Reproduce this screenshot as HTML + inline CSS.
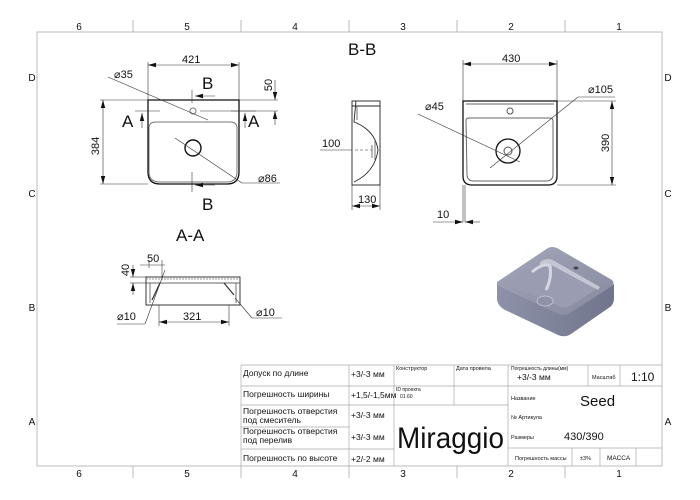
<!DOCTYPE html>
<html><head><meta charset="utf-8"><style>
html,body{margin:0;padding:0;background:#fff;width:700px;height:500px;overflow:hidden}
svg{display:block}
text{font-family:"Liberation Sans",sans-serif;fill:#111}
.t{font-family:"DejaVu Sans Condensed","DejaVu Sans",sans-serif}
</style></head><body>
<svg width="700" height="500" viewBox="0 0 700 500" xmlns="http://www.w3.org/2000/svg">
<defs>
<marker id="ar" markerWidth="8" markerHeight="6" refX="8" refY="3" orient="auto-start-reverse" markerUnits="userSpaceOnUse"><path d="M0,0.8 L8,3 L0,5.2z" fill="#111"/></marker>
<linearGradient id="g1" x1="0" y1="0" x2="1" y2="1"><stop offset="0" stop-color="#a4a7ba"/><stop offset="1" stop-color="#868aa0"/></linearGradient>
<linearGradient id="g2" x1="0" y1="0" x2="1" y2="0"><stop offset="0" stop-color="#8e92a8"/><stop offset="1" stop-color="#70748c"/></linearGradient>
</defs>
<rect x="37" y="32" width="625" height="434" fill="none" stroke="#bbb" stroke-width="1"/>
<g stroke="#aaa" stroke-width="0.8">
<line x1="133" y1="20" x2="133" y2="32"/><line x1="241" y1="20" x2="241" y2="32"/><line x1="349" y1="20" x2="349" y2="32"/><line x1="457" y1="20" x2="457" y2="32"/><line x1="565" y1="20" x2="565" y2="32"/>
<line x1="133" y1="466" x2="133" y2="478"/><line x1="241" y1="466" x2="241" y2="478"/><line x1="349" y1="466" x2="349" y2="478"/><line x1="457" y1="466" x2="457" y2="478"/><line x1="565" y1="466" x2="565" y2="478"/>
</g>
<g font-size="10" text-anchor="middle">
<text x="79" y="30">6</text><text x="187" y="30">5</text><text x="295" y="30">4</text><text x="403" y="30">3</text><text x="511" y="30">2</text><text x="619" y="30">1</text>
<text x="79" y="477">6</text><text x="187" y="477">5</text><text x="295" y="477">4</text><text x="403" y="477">3</text><text x="511" y="477">2</text><text x="619" y="477">1</text>
<text x="32" y="81">D</text><text x="32" y="197">C</text><text x="32" y="311">B</text><text x="32" y="425">A</text>
<text x="668" y="81">D</text><text x="668" y="197">C</text><text x="668" y="311">B</text><text x="668" y="425">A</text>
</g>

<g fill="none" stroke="#111" stroke-width="1">
<path d="M148,100 H239 V172 Q239,184 227,184 H160 Q148,184 148,172 Z" stroke-width="1.3"/>
<path d="M149,128 Q149,122 156,122 H230 Q237,122 237,128 V172 Q237,182 227,182 H160 Q149,182 149,172 Z" stroke="#777"/>
<circle cx="193" cy="148" r="8" stroke-width="1.4"/>
<circle cx="193" cy="111" r="3" stroke="#777"/>
</g>
<g stroke="#333" stroke-width="0.6" fill="none">
<line x1="148" y1="62" x2="148" y2="100"/><line x1="239" y1="62" x2="239" y2="100"/>
<line x1="148" y1="65" x2="239" y2="65" marker-start="url(#ar)" marker-end="url(#ar)"/>
<line x1="100" y1="100" x2="148" y2="100"/><line x1="100" y1="184" x2="148" y2="184"/>
<line x1="103" y1="100" x2="103" y2="184" marker-start="url(#ar)" marker-end="url(#ar)"/>
<line x1="239" y1="100" x2="278" y2="100"/><line x1="200" y1="111" x2="278" y2="111"/>
<line x1="275" y1="80" x2="275" y2="100" marker-end="url(#ar)"/><line x1="275" y1="125" x2="275" y2="111" marker-end="url(#ar)"/>
<line x1="108" y1="77" x2="208" y2="120"/><line x1="175" y1="138" x2="242" y2="183"/><line x1="242" y1="183" x2="280" y2="183"/>
<line x1="192" y1="90" x2="192" y2="103"/><line x1="192" y1="172" x2="192" y2="192"/>
<line x1="195" y1="96" x2="215" y2="96" marker-start="url(#ar)"/><line x1="195" y1="185" x2="215" y2="185" marker-start="url(#ar)"/>
<line x1="135" y1="111" x2="160" y2="111"/><line x1="231" y1="111" x2="256" y2="111"/>
<line x1="142" y1="128" x2="142" y2="113" marker-end="url(#ar)"/><line x1="245" y1="128" x2="245" y2="113" marker-end="url(#ar)"/>
</g>
<g font-size="11">
<text x="182" y="63">421</text>
<text x="114" y="78">⌀35</text>
<text x="202" y="89" font-size="17">B</text>
<text x="202" y="210" font-size="17">B</text>
<text x="122" y="127" font-size="17">A</text>
<text x="248" y="127" font-size="17">A</text>
<text x="258" y="182">⌀86</text>
<text transform="translate(99,146) rotate(-90)" text-anchor="middle">384</text>
<text transform="translate(272,85) rotate(-90)" text-anchor="middle">50</text>
<text x="348" y="55" font-size="17">B-B</text>
<text x="176" y="241" font-size="17">A-A</text>
</g>

<g fill="none" stroke="#222" stroke-width="0.9">
<rect x="352" y="101" width="28" height="84"/>
<path d="M352,106 H380 M356,101 L354,122 Q375,130 378,150 Q375,172 354,182" />
<path d="M357,106 L357,120 M375,140 V160 M372,145 V158" stroke="#666"/>
</g>
<g stroke="#333" stroke-width="0.6" fill="none">
<line x1="320" y1="150" x2="352" y2="150"/><line x1="355" y1="150" x2="372" y2="150" stroke-dasharray="3,2"/>
<line x1="352" y1="185" x2="352" y2="210"/><line x1="380" y1="185" x2="380" y2="210"/>
<line x1="352" y1="206" x2="380" y2="206" marker-start="url(#ar)" marker-end="url(#ar)"/>
</g>
<g font-size="11"><text x="322" y="147">100</text><text x="358" y="203">130</text></g>

<g fill="none" stroke="#111" stroke-width="1">
<path d="M463,101 H557 V176 Q557,185 548,185 H472 Q463,185 463,176 Z" stroke-width="1.3"/>
<path d="M466,104 H554 M466,120 Q466,118 470,118 H550 Q553,118 553,121 V174 Q553,181 546,181 H474 Q467,181 467,174 Z" stroke="#666"/>
<circle cx="508" cy="151" r="12" stroke-width="1.3"/>
<circle cx="508" cy="151" r="4" stroke="#555"/>
<circle cx="510" cy="111" r="3" stroke="#555"/>
</g>
<g stroke="#333" stroke-width="0.6" fill="none">
<line x1="463" y1="60" x2="463" y2="101"/><line x1="557" y1="60" x2="557" y2="101"/>
<line x1="463" y1="64" x2="557" y2="64" marker-start="url(#ar)" marker-end="url(#ar)"/>
<line x1="557" y1="101" x2="616" y2="101"/><line x1="557" y1="185" x2="616" y2="185"/>
<line x1="612" y1="101" x2="612" y2="185" marker-start="url(#ar)" marker-end="url(#ar)"/>
<line x1="418" y1="114" x2="520" y2="162"/><line x1="490" y1="168" x2="578" y2="97"/><line x1="578" y1="97" x2="615" y2="97"/>
<line x1="463" y1="185" x2="463" y2="222"/><line x1="465" y1="185" x2="465" y2="222"/>
<line x1="433" y1="222" x2="463" y2="222" marker-end="url(#ar)"/><line x1="480" y1="222" x2="465" y2="222" marker-end="url(#ar)"/>
</g>
<g font-size="11">
<text x="502" y="62">430</text><text x="425" y="110">⌀45</text><text x="588" y="93">⌀105</text><text x="437" y="218">10</text>
<text transform="translate(609,143) rotate(-90)" text-anchor="middle">390</text>
</g>

<g fill="none" stroke="#222" stroke-width="0.9">
<rect x="146" y="277" width="94" height="28"/>
<path d="M146,283 H240 M150,283 V303 M236,283 V303" stroke="#666"/>
<path d="M146,279 H240" stroke="#999" stroke-dasharray="2,1"/>
</g>
<g stroke="#333" stroke-width="0.6" fill="none">
<line x1="160" y1="283" x2="152" y2="300" stroke-width="1.2"/><line x1="224" y1="283" x2="234" y2="295" stroke-width="1.2"/>
<line x1="140" y1="265" x2="165" y2="265"/><line x1="149" y1="260" x2="149" y2="268"/><line x1="162" y1="260" x2="162" y2="278"/>
<line x1="130" y1="277" x2="146" y2="277"/><line x1="130" y1="283" x2="146" y2="283"/>
<line x1="133" y1="265" x2="133" y2="277" marker-end="url(#ar)"/><line x1="133" y1="295" x2="133" y2="283" marker-end="url(#ar)"/>
<line x1="159" y1="305" x2="159" y2="326"/><line x1="229" y1="305" x2="229" y2="326"/>
<line x1="159" y1="322" x2="229" y2="322" marker-start="url(#ar)" marker-end="url(#ar)"/>
<line x1="117" y1="324" x2="145" y2="324"/><line x1="145" y1="324" x2="165" y2="270"/>
<line x1="235" y1="298" x2="252" y2="318"/><line x1="252" y1="318" x2="282" y2="318"/>
</g>
<g font-size="11">
<text x="147" y="262">50</text><text x="117" y="320">⌀10</text><text x="183" y="320">321</text><text x="256" y="316">⌀10</text>
<text transform="translate(129,270) rotate(-90)" text-anchor="middle">40</text>
</g>

<!-- 3D render -->
<g>
<path d="M497,282 L497,300 Q498,306 505,310 L558,335 Q565,338 571,334 L610,307 Q614,304 614,298 L614,284 L568,314 Z" fill="url(#g2)"/>
<path d="M497,282 L548,248 Q552,246 557,248 L612,280 Q615,283 612,286 L570,313 Q565,316 559,314 L502,288 Q496,285 497,282 Z" fill="url(#g1)"/>
<path d="M506,284 L540,262 Q546,258 553,262 L598,288 L570,306 Q565,309 559,306 Z" fill="#9a9db2"/>
<path d="M540,262 Q548,256 556,262 L600,287 L598,290 L553,266 Q547,263 540,268 Z" fill="#c4c6d4"/>
<path d="M532,272 Q544,262 550,266 Q552,278 546,290" fill="none" stroke="#d4d6e2" stroke-width="3"/>
<ellipse cx="545" cy="301" rx="8" ry="5" fill="#8f92a8" stroke="#c8cad8" stroke-width="0.8"/>
<ellipse cx="576" cy="268" rx="2.5" ry="1.5" fill="#444"/>
</g>

<g stroke="#aaa" stroke-width="0.7" fill="none">
<line x1="241" y1="365" x2="662" y2="365"/>
<line x1="241" y1="386" x2="662" y2="386"/>
<line x1="241" y1="405" x2="508" y2="405"/>
<line x1="241" y1="427" x2="349" y2="427"/>
<line x1="241" y1="449" x2="394" y2="449"/>
<line x1="508" y1="448" x2="662" y2="448"/>
<line x1="241" y1="365" x2="241" y2="466"/>
<line x1="349" y1="365" x2="349" y2="466"/>
<line x1="394" y1="365" x2="394" y2="466"/>
<line x1="454" y1="365" x2="454" y2="405"/>
<line x1="508" y1="365" x2="508" y2="466"/>
<line x1="588" y1="365" x2="588" y2="386"/>
<line x1="620" y1="365" x2="620" y2="386"/>
<line x1="572" y1="448" x2="572" y2="466"/><line x1="600" y1="448" x2="600" y2="466"/><line x1="636" y1="448" x2="636" y2="466"/>
</g>
<g class="t" font-size="8.5">
<text x="243" y="376">Допуск по длине</text>
<text x="243" y="397">Погрешность ширины</text>
<text x="243" y="414">Погрешность отверстия</text>
<text x="243" y="423">под смеситель</text>
<text x="243" y="434">Погрешность отверстия</text>
<text x="243" y="443">под перелив</text>
<text x="243" y="461">Погрешность по высоте</text>
<text x="351" y="377">+3/-3 мм</text>
<text x="351" y="398">+1,5/-1,5мм</text>
<text x="351" y="418">+3/-3 мм</text>
<text x="351" y="440">+3/-3 мм</text>
<text x="351" y="462">+2/-2 мм</text>
<text x="396" y="370" font-size="5.5">Конструктор</text>
<text x="456" y="370" font-size="5.5">Дата провела</text>
<text x="396" y="391" font-size="5">ID проекта</text>
<text x="400" y="398" font-size="5">01.60</text>
<text x="511" y="370" font-size="5">Погрешность длины(мм)</text>
<text x="517" y="380">+3/-3 мм</text>
<text x="592" y="379" font-size="5.5">Масштаб</text>
<text x="631" y="381" font-size="12">1:10</text>
<text x="511" y="400" font-size="5.5">Название</text>
<text x="580" y="406" font-size="15">Seed</text>
<text x="511" y="419" font-size="5.5">№ Артикула</text>
<text x="511" y="439" font-size="5.5">Размеры</text>
<text x="564" y="440" font-size="11">430/390</text>
<text x="515" y="460" font-size="5.5">Погрешность массы</text>
<text x="580" y="460" font-size="5.5">±3%</text>
<text x="607" y="460" font-size="6.5">МАССА</text>
<text x="397" y="448" font-size="30" textLength="107" lengthAdjust="spacingAndGlyphs">Miraggio</text>
</g>
</svg>
</body></html>
